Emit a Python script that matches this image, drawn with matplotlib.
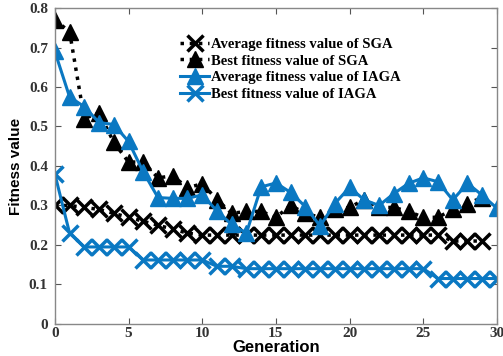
import matplotlib
matplotlib.use("Agg")
import matplotlib.pyplot as plt

gen_sga = list(range(0, 30))
gen_iaga = list(range(0, 31))

avg_sga = [0.30, 0.30, 0.295, 0.29, 0.28, 0.27, 0.26, 0.25, 0.24, 0.23,
           0.225, 0.225, 0.225, 0.225, 0.225, 0.225, 0.225, 0.225, 0.225, 0.225,
           0.225, 0.225, 0.225, 0.225, 0.225, 0.225, 0.225, 0.21, 0.21, 0.21]
best_sga = [0.77, 0.74, 0.52, 0.535, 0.46, 0.41, 0.41, 0.37, 0.375, 0.345,
            0.355, 0.315, 0.28, 0.285, 0.285, 0.27, 0.30, 0.28, 0.27, 0.29,
            0.295, 0.315, 0.295, 0.295, 0.285, 0.27, 0.27, 0.29, 0.305, 0.32]
avg_iaga = [0.69, 0.575, 0.55, 0.51, 0.505, 0.462, 0.385, 0.32, 0.318, 0.318,
            0.327, 0.286, 0.252, 0.23, 0.347, 0.357, 0.333, 0.297, 0.248, 0.305,
            0.346, 0.314, 0.30, 0.33, 0.356, 0.37, 0.36, 0.314, 0.356, 0.326, 0.293]
best_iaga = [0.38, 0.23, 0.195, 0.195, 0.195, 0.195, 0.162, 0.162, 0.162, 0.162,
             0.162, 0.146, 0.146, 0.14, 0.14, 0.14, 0.14, 0.14, 0.14, 0.14,
             0.14, 0.14, 0.14, 0.14, 0.14, 0.14, 0.115, 0.115, 0.115, 0.115, 0.115]

labels = ["Average fitness value of SGA", "Best fitness value of SGA",
          "Average fitness value of IAGA", "Best fitness value of IAGA"]
xticks = [0, 5, 10, 15, 20, 25, 30]
yticks = [0, 0.1, 0.2, 0.3, 0.4, 0.5, 0.6, 0.7, 0.8]
yticklabels = ["0", "0.1", "0.2", "0.3", "0.4", "0.5", "0.6", "0.7", "0.8"]

blue = "#0a78c2"
fig = plt.figure(figsize=(5.03, 3.56), dpi=100)
ax = fig.add_axes([0.109, 0.09, 0.879, 0.8875])

ax.plot(gen_sga, avg_sga, color="black", linestyle=":", linewidth=2.5,
        marker="x", markersize=11, markeredgewidth=2.5, label=labels[0])
ax.plot(gen_sga, best_sga, color="black", linestyle=":", linewidth=2.5,
        marker="^", markersize=11.5, label=labels[1])
ax.plot(gen_iaga, avg_iaga, color=blue, linestyle="-", linewidth=2.2,
        marker="^", markersize=11.5, label=labels[2])
ax.plot(gen_iaga, best_iaga, color=blue, linestyle="-", linewidth=2.2,
        marker="x", markersize=11, markeredgewidth=2.5, label=labels[3])

ax.set_xlim(0, 30)
ax.set_ylim(0, 0.8)
ax.set_xticks(xticks)
ax.set_yticks(yticks)
ax.set_yticklabels(yticklabels)
ax.tick_params(direction="in", top=True, right=True, length=4, color="#555555")
ax.tick_params(axis="x", pad=2)
ax.tick_params(axis="y", pad=5)
for lab in ax.get_xticklabels() + ax.get_yticklabels():
    lab.set_fontfamily("Liberation Serif")
    lab.set_fontweight("bold")
    lab.set_fontsize(11)
    lab.set_color("#333333")
for sp in ax.spines.values():
    sp.set_color("#888888")
    sp.set_linewidth(1.0)

ax.set_xlabel("Generation", fontfamily="Liberation Sans", fontweight="bold",
              fontsize=12)
ax.xaxis.set_label_coords(0.5, -0.052)
ax.set_ylabel("Fitness value", fontfamily="Liberation Sans", fontweight="bold",
              fontsize=11, labelpad=4)

leg = ax.legend(loc="upper left", bbox_to_anchor=(0.27, 0.925), frameon=False,
                prop={"family": "Liberation Serif", "weight": "bold", "size": 10.5},
                handlelength=2.0, handletextpad=0.15, labelspacing=0.25,
                borderaxespad=0)

fig.savefig("out.png", dpi=100)
